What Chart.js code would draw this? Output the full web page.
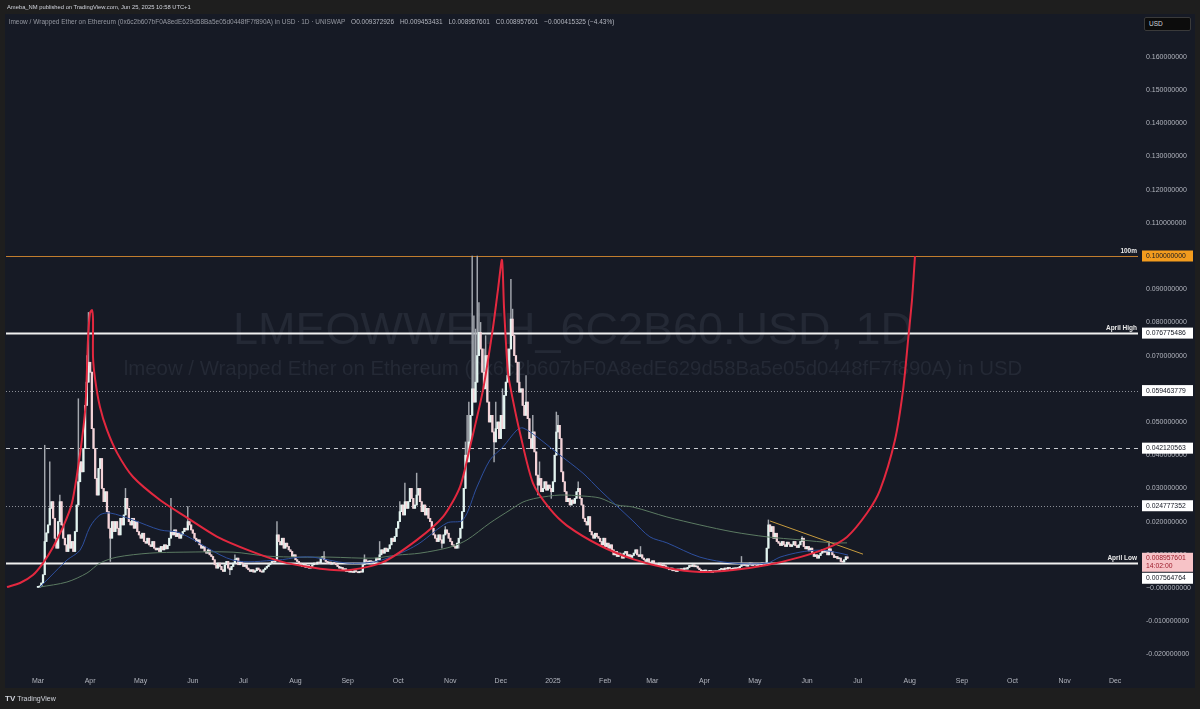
<!DOCTYPE html>
<html>
<head>
<meta charset="utf-8">
<title>LMEOWWETH_6C2B60.USD, 1D</title>
<script src="https://cdn.jsdelivr.net/npm/chart.js@4.4.1/dist/chart.umd.min.js"></script>
<style>
  body { margin: 0; background: #1e1e1e; font-family: "Liberation Sans", Arial, sans-serif; }
  #wrap { position: relative; width: 1200px; height: 709px; overflow: hidden; }
  #myChart { position: absolute; left: 0; top: 0; }
  .txt { position: absolute; white-space: nowrap; line-height: 1; }
  #published { left: 7px; top: 5px; font-size: 5.8px; color: #d1d4dc; }
  #legend { left: 9px; top: 19px; font-size: 6.5px; color: #9598a1; }
  #legend b { font-weight: normal; color: #b2b5be; margin-left: 4px; }
  #usd { left: 1144px; top: 17px; width: 47px; height: 14px; background: #0c0c0c; border: 1px solid #3a3a3a;
         border-radius: 2px; font-size: 6.5px; color: #d1d4dc; box-sizing: border-box; padding: 3px 0 0 4px; }
  #logo { left: 5px; top: 695px; font-size: 7px; color: #d1d4dc; }
  #logo span { font-weight: bold; font-size: 8px; margin-right: 2px; }
</style>
</head>
<body>
<div id="wrap">
  <canvas id="myChart" width="1200" height="709"></canvas>
  <div class="txt" id="published">Ameba_NM published on TradingView.com, Jun 25, 2025 10:58 UTC+1</div>
  <div class="txt" id="legend">lmeow / Wrapped Ether on Ethereum (0x6c2b607bF0A8edE629d58Ba5e05d0448fF7f890A) in USD · 1D · UNISWAP
    <b>O0.009372926</b> <b>H0.009453431</b> <b>L0.008957601</b> <b>C0.008957601</b> <b>−0.000415325 (−4.43%)</b></div>
  <div class="txt" id="usd">USD</div>
  <div class="txt" id="logo"><span>TV</span>TradingView</div>
</div>
<script>
// x = days since Mar 1 2024, prices in USD
const PRICE_UNIT = 0.0001;   // closes below are in 0.0001 USD
const LAST_DAY = 481;        // Jun 25 2025

const monthLabels = ["Mar", "Apr", "May", "Jun", "Jul", "Aug", "Sep", "Oct", "Nov", "Dec", "2025",
  "Feb", "Mar", "Apr", "May", "Jun", "Jul", "Aug", "Sep", "Oct", "Nov", "Dec"];
const monthDays = [0, 31, 61, 92, 122, 153, 184, 214, 245, 275, 306,
  337, 365, 396, 426, 457, 487, 518, 549, 579, 610, 640];

// daily closes
const closes = [
  3, 6, 15, 40,
  140, 166, 190, 240, 260, 210,
  150, 120, 200, 260, 190,
  150, 130, 110, 160, 120, 140, 110,
  170, 250, 320,
  380, 350, 420,
  550, 620, 680, 650,
  480, 420,
  330, 280, 360, 390,
  300, 260, 290, 230,
  180, 150, 200,
  170, 200, 180, 160, 210, 190,
  220, 270, 240, 200, 190, 210, 180, 200,
  170, 160, 150, 165, 140, 135, 150, 130, 125, 140, 120, 115,
  120, 110, 125, 115, 130, 118, 128,
  150, 170, 160, 175, 155, 165, 150, 160, 170, 180, 175,
  200, 190, 175,
  165, 150, 140, 145, 130, 120, 125, 110, 105, 115, 100, 95,
  85, 70, 60, 75, 65, 55, 50, 70, 80, 60, 55, 65,
  75, 85, 90, 70, 80, 75, 65, 70,
  60, 55, 50, 55, 48, 52, 60, 55, 50, 48, 55, 60,
  65, 70, 75, 80, 78, 85,
  160,
  140, 130, 150, 120, 135, 125, 115,
  110, 95, 100, 85, 80, 75,
  70, 65, 72, 62, 68, 60, 65,
  70, 75, 72, 78, 75,
  90, 95, 85,
  80, 75, 78, 72, 76, 74, 70,
  65, 60, 62, 55, 58, 50, 52,
  48, 50, 47, 52, 49, 46, 50, 48,
  70, 85, 80, 78, 82, 75, 80, 78, 90, 85,
  100, 115, 105, 120, 110, 118,
  130, 150, 140, 155,
  180, 200, 230,
  250, 220, 260, 240,
  260, 300, 270, 240, 250, 280, 300,
  260, 230, 250, 220, 240, 210, 200,
  180, 160, 150, 140, 160, 145, 135,
  160, 175, 165, 150,
  140, 130, 125, 120,
  135, 150, 180, 230,
  300, 400, 380, 440,
  520, 600, 560, 620,
  700, 770, 720,
  650, 600, 700,
  560, 500, 520,
  470, 440, 480,
  500, 450, 520, 480,
  580, 620, 640,
  720, 810, 760,
  700, 680,
  620, 590, 600,
  550, 520, 560, 510,
  450, 420, 470, 410,
  340, 310, 330, 290, 300, 320, 295, 310,
  300, 290, 320,
  400, 470, 490, 450,
  350, 320, 290, 260, 270,
  250, 265, 255, 270,
  290, 300, 270, 250,
  210, 200, 190, 215,
  170, 160, 150, 165, 155, 150,
  140, 130, 150, 125, 135, 120, 130, 115,
  100, 110, 95, 105, 100, 90, 105, 110, 95, 100, 92, 98, 105, 115, 100, 95, 100,
  90, 85, 80, 88, 78, 75, 82, 70, 72, 68, 75, 65, 70, 67, 63,
  58, 55, 60, 52, 55, 50, 57, 53, 58, 55, 60, 57,
  62, 68, 65, 70, 64, 66, 60,
  55, 52, 50, 54, 48, 50, 53, 47, 51, 49, 52, 50,
  56, 58, 55, 60, 57, 62, 59, 56, 60, 58, 61, 59,
  65, 70, 68, 72, 66, 70, 75, 68, 72, 70, 67, 73, 70, 75, 72, 68,
  120, 190, 170, 185, 150, 165,
  140, 135, 128, 140, 130, 125, 138, 132, 125, 130, 140, 128, 122, 130,
  140, 150,
  125, 118, 125, 112, 120,
  105, 95, 100, 90, 98,
  105, 115, 108, 112, 100, 118, 110,
  100, 92, 95, 88, 90,
  80, 78, 85, 93.72926, 89.57601
];
const firstOpen = 2;

// notable wicks [day, price in 0.0001 USD]
const wickHighs = [[4, 430], [7, 380], [13, 280], [24, 570], [29, 700], [30, 830], [52, 300], [79, 270],
  [89, 245], [117, 100], [142, 200], [170, 110], [194, 100], [203, 140], [215, 260], [218, 316],
  [225, 346], [242, 185], [254, 440], [255, 520], [256, 560], [258, 1000], [259, 820], [260, 780],
  [261, 1000], [262, 860], [263, 800], [265, 720], [266, 760], [272, 560], [276, 600], [279, 720],
  [281, 930], [282, 840], [283, 760], [286, 680], [290, 640], [294, 520], [298, 380], [308, 530],
  [309, 520], [321, 320], [358, 125], [418, 95], [434, 205], [454, 155], [470, 140], [480, 94.53431]];
const wickLows = [[43, 80], [114, 40], [240, 120], [250, 120], [271, 380], [297, 280], [305, 270]];

// moving averages [day, USD]
const blueMA = [[1.2, 0.0003], [7.1, 0.0033], [17.2, 0.0084], [25, 0.0114], [30.9, 0.0184], [36.8, 0.022],
  [42.8, 0.0226], [56.4, 0.0205], [72.5, 0.0175], [84.4, 0.0166], [115.9, 0.0084], [142, 0.0084],
  [155.7, 0.0093], [163.4, 0.0093], [183.6, 0.0075], [199.1, 0.0078], [209.2, 0.0093], [219.3, 0.0114],
  [227, 0.0136], [243, 0.0196], [252.5, 0.0205], [260.8, 0.0304], [268.6, 0.0386], [276.3, 0.0425],
  [284.6, 0.0476], [288.2, 0.0482], [296.5, 0.0455], [308.4, 0.0407], [323.8, 0.0346], [333.9, 0.0295],
  [353.5, 0.0202], [363.6, 0.0154], [373.7, 0.0136], [393.3, 0.0093], [413, 0.0075], [433.2, 0.0075],
  [440.9, 0.0093], [452.8, 0.0108], [464.6, 0.0114], [476.5, 0.0105], [481.3, 0.0099]];
const greenMA = [[1.2, 0.0003], [17.2, 0.0018], [29.1, 0.0045], [36.8, 0.0075], [46.9, 0.0093],
  [66.5, 0.0105], [86.2, 0.0108], [115.9, 0.0108], [136.1, 0.0096], [155.7, 0.0093], [173.5, 0.0093],
  [199.1, 0.009], [213.3, 0.0099], [227, 0.0105], [244.8, 0.0123], [254.9, 0.0145], [268.6, 0.0196],
  [280.5, 0.0235], [288.2, 0.0259], [296.5, 0.0271], [310.2, 0.028], [323.8, 0.0277], [333.9, 0.0271],
  [344, 0.025], [353.5, 0.0244], [373.7, 0.0214], [393.3, 0.019], [413, 0.0169], [433.2, 0.0154],
  [452.8, 0.0145], [472.4, 0.0136], [480.7, 0.0136]];

// hand drawn curve [day, USD]
const curve = [[-18.4, 0.0003], [-10.7, 0.0015], [-3, 0.0039], [3, 0.0075], [8.9, 0.0123], [14.9, 0.0184],
  [20.2, 0.0256], [25, 0.0405], [28.2, 0.0546], [29.7, 0.0747], [30.9, 0.0828], [32.1, 0.0837],
  [32.7, 0.0808], [32.7, 0.0696], [34, 0.0627], [36.8, 0.0546], [41, 0.0476], [47, 0.0407],
  [56.4, 0.0335], [72.5, 0.0265], [88.5, 0.0212], [106.3, 0.0155], [126, 0.0112], [145.7, 0.0078],
  [160, 0.0064], [173.5, 0.0055], [185.4, 0.0054], [205, 0.0078], [225.2, 0.0145], [240.6, 0.0214],
  [250.7, 0.0304], [256.7, 0.0425], [264.4, 0.0596], [270.4, 0.0786], [273.3, 0.0898], [275.7, 0.0988],
  [276.9, 0.0846], [279.3, 0.0648], [282.2, 0.0566], [286.4, 0.0467], [294.1, 0.0316], [304.2, 0.0238],
  [314.3, 0.0188], [333.9, 0.0128], [353.5, 0.0087], [373.7, 0.006], [393.3, 0.0048], [413, 0.0054],
  [433.2, 0.0069], [452.8, 0.0093], [468.8, 0.012], [480.7, 0.0154], [492.6, 0.0226], [500.3, 0.0295],
  [509.2, 0.0446], [514, 0.0596], [517, 0.0747], [519.3, 0.0867], [521.1, 0.1]];
const trendLine = [[434.9, 0.0202], [490.2, 0.0102]];

// horizontal levels
const levelValues = [0.1, 0.076775486, 0.059463779, 0.042120563, 0.024777352, 0.007564764];
const levelNames = ["100m", "April High", "", "", "", "April Low"];
const levelKinds = ["orange", "solid", "dotted", "dashed", "dotted", "solid"];
const lastPrice = 0.008957601;
const lastTimer = "14:02:00";

const upColor = "#e2f4f0";
const downColor = "#f4d2d7";

function buildCandles() {
  const startDay = LAST_DAY - closes.length + 1;
  const hiMap = {};
  const loMap = {};
  wickHighs.forEach(w => { hiMap[w[0]] = w[1]; });
  wickLows.forEach(w => { loMap[w[0]] = w[1]; });
  const bodies = [];
  const wicks = [];
  const colors = [];
  closes.forEach((c, i) => {
    const day = startDay + i;
    const o = i === 0 ? firstOpen : closes[i - 1];
    let hi = Math.max(o, c);
    let lo = Math.min(o, c);
    if (hiMap[day] !== undefined) hi = Math.max(hi, hiMap[day]);
    if (loMap[day] !== undefined) lo = Math.min(lo, loMap[day]);
    bodies.push({ x: day, y: [o * PRICE_UNIT, c * PRICE_UNIT] });
    wicks.push({ x: day, y: [lo * PRICE_UNIT, hi * PRICE_UNIT] });
    colors.push(c >= o ? upColor : downColor);
  });
  return { bodies, wicks, colors };
}

const toXY = list => list.map(p => ({ x: p[0], y: p[1] }));

const paneBg = {
  id: "paneBg",
  beforeDraw(chart) {
    const ctx = chart.ctx;
    ctx.save();
    ctx.fillStyle = "#1e1e1e";
    ctx.fillRect(0, 0, 1200, 709);
    ctx.fillStyle = "#161a25";
    ctx.fillRect(5, 14, 1190, 674);
    ctx.restore();
  }
};

const watermark = {
  id: "watermark",
  beforeDatasetsDraw(chart) {
    const ctx = chart.ctx;
    ctx.save();
    ctx.textAlign = "center";
    ctx.textBaseline = "middle";
    ctx.fillStyle = "#242935";
    ctx.font = '45px "Liberation Sans", Arial, sans-serif';
    ctx.fillText("LMEOWWETH_6C2B60.USD, 1D", 573, 332);
    ctx.font = '20.4px "Liberation Sans", Arial, sans-serif';
    ctx.fillText("lmeow / Wrapped Ether on Ethereum (0x6c2b607bF0A8edE629d58Ba5e05d0448fF7f890A) in USD", 573, 369);
    ctx.restore();
  }
};

const levels = {
  id: "levels",
  beforeDatasetsDraw(chart) {
    const ctx = chart.ctx;
    const area = chart.chartArea;
    const y = chart.scales.y;
    ctx.save();
    levelValues.forEach((v, i) => {
      const py = Math.round(y.getPixelForValue(v)) + 0.5;
      const kind = levelKinds[i];
      ctx.setLineDash([]);
      if (kind === "orange") { ctx.strokeStyle = "#c17d2e"; ctx.lineWidth = 1; }
      if (kind === "solid") { ctx.strokeStyle = "#f0f0f0"; ctx.lineWidth = 2; }
      if (kind === "dotted") { ctx.strokeStyle = "#8b8e96"; ctx.lineWidth = 1; ctx.setLineDash([1, 2]); }
      if (kind === "dashed") { ctx.strokeStyle = "#c9cbd0"; ctx.lineWidth = 1; ctx.setLineDash([4, 4]); }
      ctx.beginPath();
      ctx.moveTo(area.left, py);
      ctx.lineTo(area.right, py);
      ctx.stroke();
      if (levelNames[i]) {
        ctx.setLineDash([]);
        ctx.fillStyle = "#e8e8e8";
        ctx.font = 'bold 6.5px "Liberation Sans", Arial, sans-serif';
        ctx.textAlign = "right";
        ctx.textBaseline = "bottom";
        ctx.fillText(levelNames[i], area.right - 1, py - 2);
      }
    });
    ctx.restore();
  }
};

const priceBoxes = {
  id: "priceBoxes",
  afterDraw(chart) {
    const ctx = chart.ctx;
    const y = chart.scales.y;
    const boxes = levelValues.map((v, i) => ({
      y: y.getPixelForValue(v), h: 11, text: [v.toFixed(9)],
      bg: levelKinds[i] === "orange" ? "#f39c1e" : "#ffffff",
      fg: "#131722"
    }));
    boxes.push({ y: y.getPixelForValue(lastPrice), h: 19, text: [lastPrice.toFixed(9), lastTimer],
      bg: "#f7c3c7", fg: "#9b1b2a" });
    boxes.sort((a, b) => a.y - b.y);
    let prevBottom = -1;
    ctx.save();
    ctx.font = '6.8px "Liberation Sans", Arial, sans-serif';
    ctx.textBaseline = "middle";
    ctx.textAlign = "left";
    boxes.forEach(b => {
      let top = b.y - 5.5;
      if (top < prevBottom + 1) top = prevBottom + 1;
      prevBottom = top + b.h;
      ctx.fillStyle = b.bg;
      ctx.fillRect(1142, top, 51, b.h);
      ctx.fillStyle = b.fg;
      b.text.forEach((t, k) => ctx.fillText(t, 1146, top + 5.8 + k * 8));
    });
    ctx.restore();
  }
};

function printTheChart() {
  const candles = buildCandles();
  const ctx = document.getElementById("myChart").getContext("2d");
  new Chart(ctx, {
    type: "bar",
    data: {
      datasets: [
        { type: "line", data: toXY(curve), borderColor: "#e3283f", borderWidth: 2, pointRadius: 0, tension: 0.25, order: 0 },
        { type: "line", data: toXY(trendLine), borderColor: "#c69a3e", borderWidth: 1, pointRadius: 0, order: 1 },
        { type: "line", data: toXY(blueMA), borderColor: "#2d4f9e", borderWidth: 1, pointRadius: 0, tension: 0.3, order: 2 },
        { type: "line", data: toXY(greenMA), borderColor: "#5b7a62", borderWidth: 1, pointRadius: 0, tension: 0.3, order: 2 },
        { data: candles.bodies, backgroundColor: candles.colors, barThickness: 1.6, minBarLength: 1, grouped: false, order: 3 },
        { data: candles.wicks, backgroundColor: "#a3a7ae", barThickness: 0.8, grouped: false, order: 4 }
      ]
    },
    options: {
      responsive: false,
      animation: false,
      devicePixelRatio: 1,
      layout: { padding: { left: 6, top: 14, right: 0, bottom: 21 } },
      plugins: { legend: { display: false }, tooltip: { enabled: false } },
      scales: {
        x: {
          type: "linear",
          min: -19,
          max: 653.6,
          offset: false,
          grid: { display: false, drawTicks: false },
          border: { display: false },
          afterBuildTicks: axis => { axis.ticks = monthDays.map(d => ({ value: d })); },
          afterFit: axis => { axis.height = 15; },
          ticks: {
            autoSkip: false,
            maxRotation: 0,
            padding: 4,
            color: "#b2b5be",
            font: { size: 7, family: '"Liberation Sans", Arial, sans-serif' },
            callback: (value, index) => monthLabels[index]
          }
        },
        y: {
          position: "right",
          min: -0.0256,
          max: 0.17289,
          grid: { display: false, drawTicks: false },
          border: { display: false },
          afterFit: axis => { axis.width = 62; },
          ticks: {
            stepSize: 0.01,
            includeBounds: false,
            padding: 8,
            color: "#b2b5be",
            font: { size: 7, family: '"Liberation Sans", Arial, sans-serif' },
            callback: value => Math.abs(value) < 1e-9 ? "−0.000000000" : value.toFixed(9)
          }
        }
      }
    },
    plugins: [paneBg, watermark, levels, priceBoxes]
  });
}

printTheChart();
</script>
</body>
</html>
